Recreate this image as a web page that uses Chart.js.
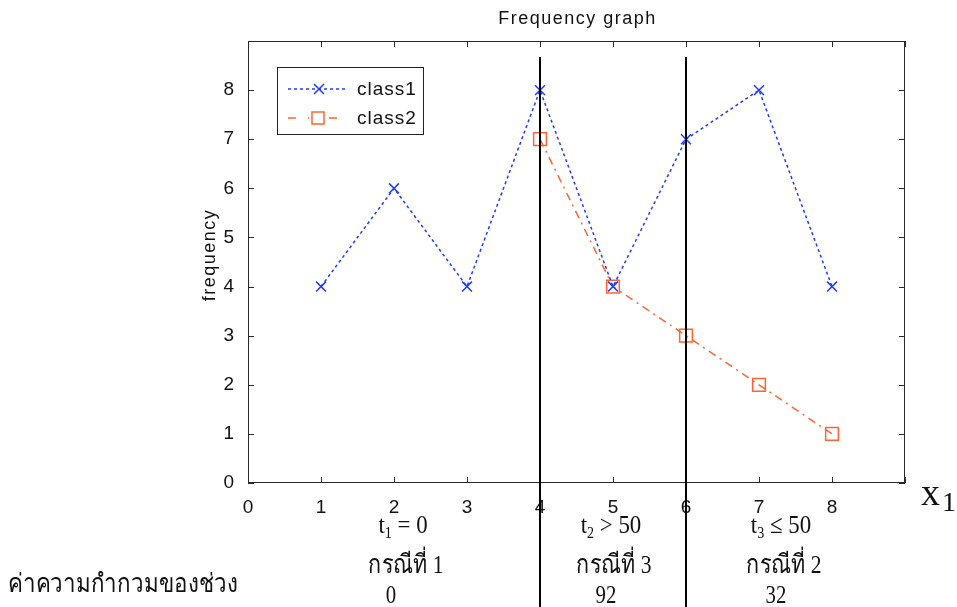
<!DOCTYPE html>
<html><head><meta charset="utf-8">
<script src="https://cdn.jsdelivr.net/npm/chart.js@4/dist/chart.umd.min.js"></script>
<style>html,body{margin:0;padding:0;background:#fff}#w{width:957px;height:607px}</style>
</head><body><div id="w"><canvas id="c"></canvas></div>
<script>
const categories = [0,1,2,3,4,5,6,7,8,9];
const class1X = [1,2,3,4,5,6,7,8];
const class1Y = [4,6,4,8,4,7,8,4];
const class2X = [4,5,6,7,8];
const class2Y = [7,4,3,2,1];
const yTicks = [0,1,2,3,4,5,6,7,8];
const boundaries = [4,6];
const titleText = 'Frequency graph';
const yLabel = 'frequency';
const caseLabels = [
  {t:'1', rel:' = 0', name:'กรณีที่ 1', val:'0'},
  {t:'2', rel:' > 50', name:'กรณีที่ 3', val:'92'},
  {t:'3', rel:' ≤ 50', name:'กรณีที่ 2', val:'32'}
];
const rowLabel = 'ค่าความกำกวมของช่วง';

const BLUE = '#1f3bff', ORANGE = '#ff6432';
const NARROW = '"Liberation Sans Narrow", "Liberation Sans", Arial, sans-serif';
const SERIF = '"Liberation Serif", "Times New Roman", serif';

const deco = {
  id:'deco',
  afterDraw(chart){
    const {ctx, chartArea:a, scales:{x,y}} = chart;
    ctx.save();
    ctx.strokeStyle='#2a2a2a'; ctx.lineWidth=1;
    ctx.strokeRect(a.left+0.5,a.top+0.5,a.right-a.left-1,a.bottom-a.top-1);
    ctx.beginPath();
    categories.forEach(v=>{const px=Math.round(x.getPixelForValue(v))+0.5;
      ctx.moveTo(px,a.bottom);ctx.lineTo(px,a.bottom-6);ctx.moveTo(px,a.top);ctx.lineTo(px,a.top+6);});
    yTicks.forEach(v=>{const py=Math.round(y.getPixelForValue(v))+0.5;
      ctx.moveTo(a.left,py);ctx.lineTo(a.left+6,py);ctx.moveTo(a.right,py);ctx.lineTo(a.right-6,py);});
    ctx.stroke();
    // title
    ctx.fillStyle='#111'; ctx.font='18px '+NARROW; ctx.textAlign='center'; ctx.textBaseline='middle';
    ctx.letterSpacing='1.5px';
    ctx.fillText(titleText,(a.left+a.right)/2+1,19);
    ctx.letterSpacing='1.5px';
    ctx.save(); ctx.translate(210,(a.top+a.bottom)/2-7); ctx.rotate(-Math.PI/2);
    ctx.fillText(yLabel,0,0); ctx.restore();
    ctx.letterSpacing='0px';
    // boundaries
    ctx.strokeStyle='#000'; ctx.lineWidth=2;
    boundaries.forEach(v=>{const px=Math.round(x.getPixelForValue(v));
      ctx.beginPath();ctx.moveTo(px,57);ctx.lineTo(px,607);ctx.stroke();});
    // legend
    ctx.lineWidth=1; ctx.strokeStyle='#222'; ctx.fillStyle='#fff';
    ctx.fillRect(277,67,146,67); ctx.strokeRect(277.5,67.5,146,67);
    ctx.lineWidth=1.5;
    ctx.setLineDash([3,3]); ctx.strokeStyle=BLUE; ctx.beginPath(); ctx.moveTo(288,89); ctx.lineTo(348,89); ctx.stroke();
    ctx.setLineDash([]); ctx.beginPath(); ctx.moveTo(314,84);ctx.lineTo(324,94);ctx.moveTo(324,84);ctx.lineTo(314,94); ctx.stroke();
    ctx.strokeStyle=ORANGE; ctx.setLineDash([8,12,1,20]); ctx.beginPath(); ctx.moveTo(288,118); ctx.lineTo(349,118); ctx.stroke();
    ctx.setLineDash([]); ctx.fillStyle='#fff'; ctx.fillRect(312,112,12,12); ctx.strokeRect(312,112,12,12);
    ctx.fillStyle='#111'; ctx.font='19px '+NARROW; ctx.textAlign='left'; ctx.letterSpacing='1px';
    ctx.fillText('class1',357,90); ctx.fillText('class2',357,119);
    ctx.letterSpacing='0px';
    // x1 label
    ctx.font='38px '+SERIF; ctx.textBaseline='alphabetic';
    ctx.fillText('x',921,505); ctx.font='28px '+SERIF; ctx.fillText('1',942,511);
    // bottom annotations
    const cx=[403,611,781];
    const sc=0.8;
    caseLabels.forEach((c,i)=>{
      ctx.textAlign='left';
      const ts=0.88;
      ctx.font='26px '+SERIF; const w1=ctx.measureText('t').width*ts;
      ctx.font='16px '+SERIF; const ws=ctx.measureText(c.t).width*ts;
      ctx.font='26px '+SERIF; const wr=ctx.measureText(c.rel).width*ts;
      const tot=w1+ws+wr; const sx=cx[i]-tot/2;
      ctx.save(); ctx.translate(sx,533); ctx.scale(ts,1);
      ctx.fillText('t',0,0); ctx.font='16px '+SERIF; ctx.fillText(c.t,w1/ts,5);
      ctx.font='26px '+SERIF; ctx.fillText(c.rel,(w1+ws)/ts,0); ctx.restore();
      ctx.textAlign='center';
      ctx.save(); ctx.translate(cx[i]+3,573); ctx.scale(0.83,1); ctx.fillText(c.name,0,0); ctx.restore();
      ctx.save(); ctx.translate(i===0?cx[i]-12:cx[i]-5,603); ctx.scale(sc,1); ctx.fillText(c.val,0,0); ctx.restore();
    });
    ctx.textAlign='left';
    ctx.save(); ctx.translate(8,592); ctx.scale(0.86,1); ctx.fillText(rowLabel,0,0); ctx.restore();
    ctx.restore();
  }
};

new Chart(document.getElementById('c'),{
  type:'line',
  data:{datasets:[
    {label:'class1',data:class1X.map((v,i)=>({x:v,y:class1Y[i]})),borderColor:BLUE,borderWidth:1.5,borderDash:[3,3],
     pointStyle:'crossRot',pointRadius:7,pointBorderWidth:1.5,pointBorderColor:BLUE,pointBackgroundColor:BLUE,tension:0,fill:false},
    {label:'class2',data:class2X.map((v,i)=>({x:v,y:class2Y[i]})),borderColor:ORANGE,borderWidth:1.5,borderDash:[8,5,2,5],
     pointStyle:'rect',pointRadius:9,pointBorderWidth:1.5,pointBorderColor:ORANGE,pointBackgroundColor:'rgba(255,255,255,0)',tension:0,fill:false}
  ]},
  options:{
    responsive:true,maintainAspectRatio:false,animation:false,
    layout:{padding:{left:0,right:52,top:41,bottom:0}},
    plugins:{legend:{display:false},tooltip:{enabled:false},title:{display:false}},
    scales:{
      x:{type:'linear',min:0,max:9,grid:{display:false},border:{display:false},
         afterFit(s){s.height=124;},
         afterBuildTicks(s){s.ticks=categories.slice(0,9).map(v=>({value:v}));},
         ticks:{color:'#111',font:{size:19,family:NARROW},padding:5,autoSkip:false,maxRotation:0}},
      y:{min:0,max:9,grid:{display:false},border:{display:false},
         afterFit(s){s.width=248;},
         afterBuildTicks(s){s.ticks=yTicks.map(v=>({value:v}));},
         ticks:{color:'#111',font:{size:19,family:NARROW},padding:6}}
    }
  },
  plugins:[deco]
});
</script></body></html>
